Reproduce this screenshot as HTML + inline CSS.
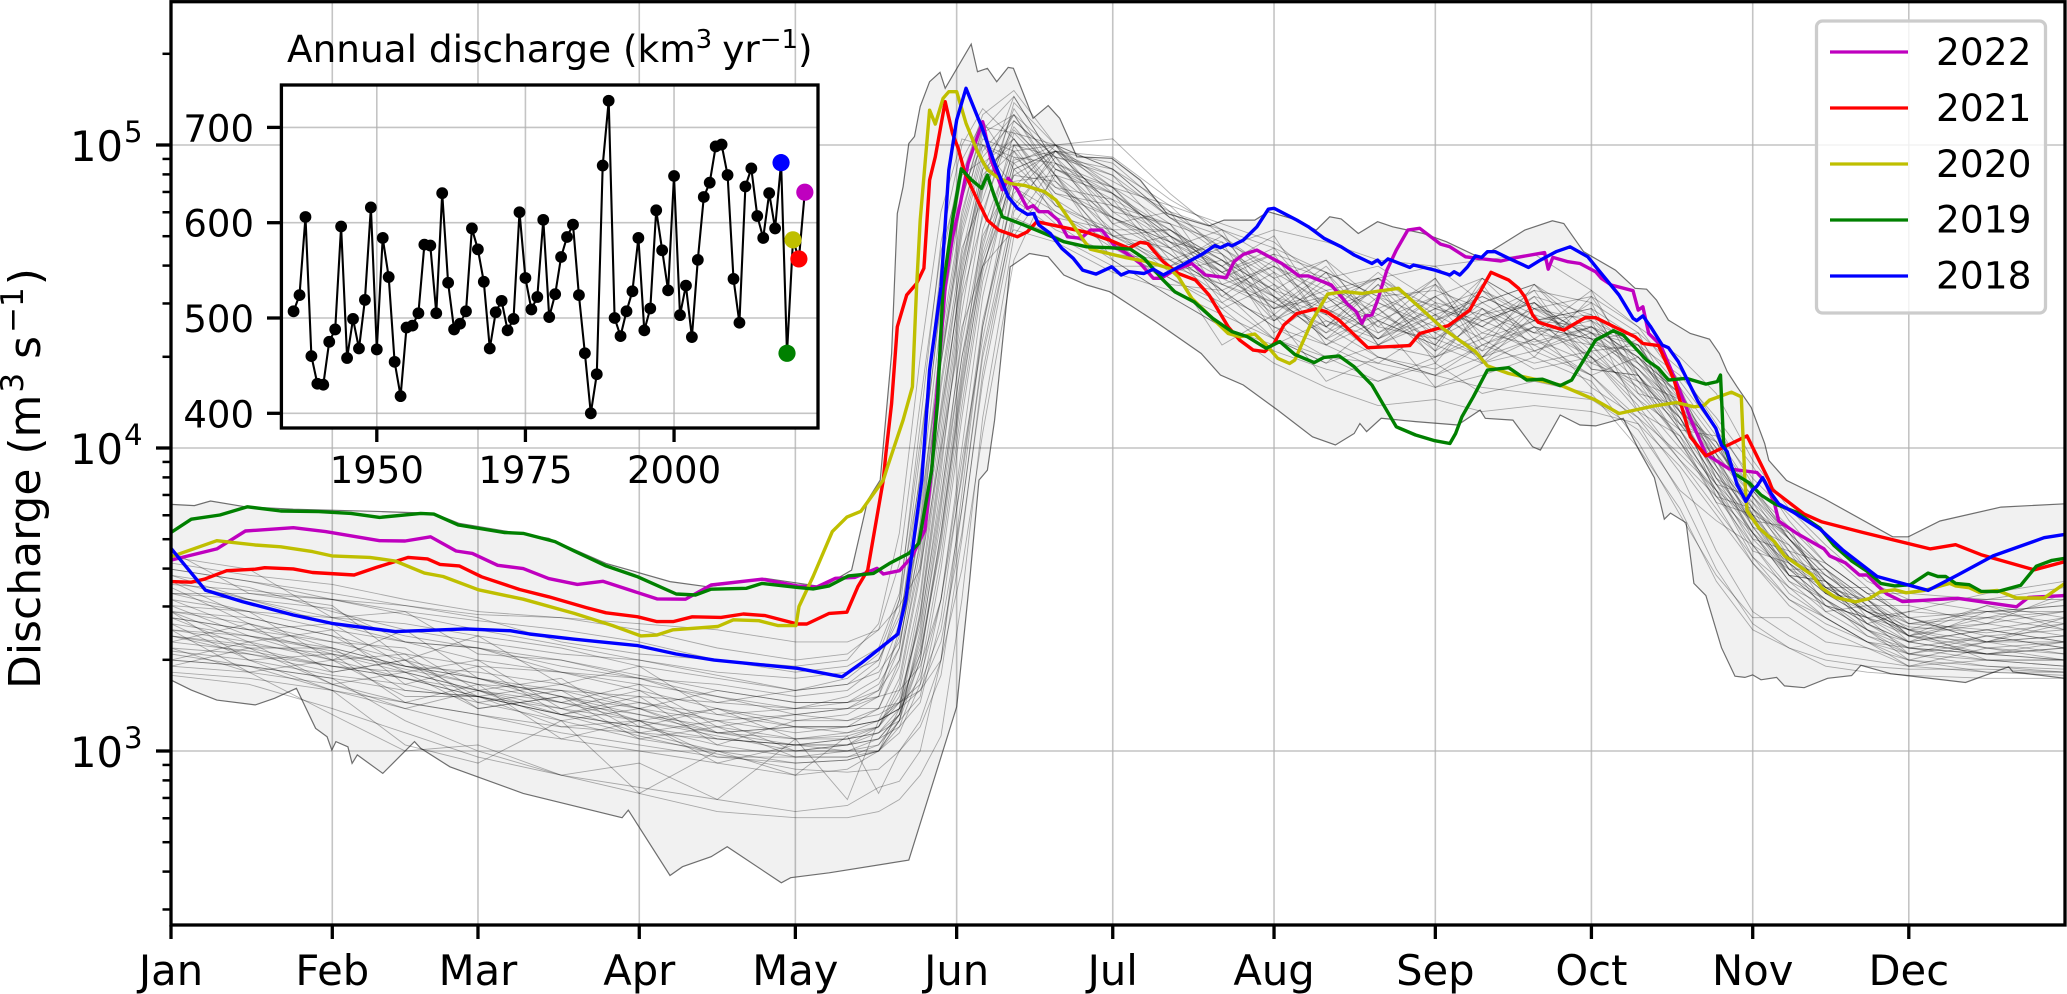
<!DOCTYPE html>
<html lang="en">
<head>
<meta charset="utf-8">
<title>Annual and daily discharge</title>
<style>
html,body{margin:0;padding:0;background:#fff;}
svg{display:block;font-family:"DejaVu Sans","Liberation Sans",sans-serif;}
</style>
</head>
<body>
<svg id="chart" xmlns="http://www.w3.org/2000/svg" width="2067" height="994" viewBox="0 0 2067 994">
<defs>
<clipPath id="main-clip"><rect x="171" y="2" width="1894" height="923"/></clipPath>
</defs>
<rect x="0" y="0" width="2067" height="994" fill="#fff"/>
<g id="main-grid"></g>
<g id="main-data" clip-path="url(#main-clip)"></g>
<g id="main-ticks"></g>
<rect x="171" y="1.7" width="1894" height="923.3" fill="none" stroke="#000" stroke-width="3.3"/>
<text transform="translate(40,689) rotate(-90)" font-size="44" fill="#000">Discharge (m<tspan font-size="31" dy="-17" dx="2">3</tspan><tspan dy="17" dx="14">s</tspan><tspan font-size="31" dy="-17" dx="3">−1</tspan><tspan dy="17" dx="2">)</tspan></text>
<text x="287" y="62" font-size="37.4" fill="#000">Annual discharge (km<tspan font-size="26" dy="-14">3</tspan><tspan dy="14" dx="10">yr</tspan><tspan font-size="26" dy="-14">−1</tspan><tspan dy="14">)</tspan></text>
<rect x="281.4" y="85" width="536.6" height="343" fill="#fff"/>
<g id="inset"></g>
<rect x="281.4" y="85" width="536.6" height="343" fill="none" stroke="#000" stroke-width="3.3"/>
<g>
<rect x="1816.5" y="21" width="229" height="292" rx="6" ry="6" fill="#fff" fill-opacity="0.8" stroke="#cccccc" stroke-width="3.3"/>
<line x1="1830" x2="1908" y1="52" y2="52" stroke="#bf00bf" stroke-width="3.3"/>
<text x="1936" y="65" font-size="37.5">2022</text>
<line x1="1830" x2="1908" y1="108" y2="108" stroke="#ff0000" stroke-width="3.3"/>
<text x="1936" y="121" font-size="37.5">2021</text>
<line x1="1830" x2="1908" y1="164" y2="164" stroke="#bfbf00" stroke-width="3.3"/>
<text x="1936" y="177" font-size="37.5">2020</text>
<line x1="1830" x2="1908" y1="220" y2="220" stroke="#008000" stroke-width="3.3"/>
<text x="1936" y="232.5" font-size="37.5">2019</text>
<line x1="1830" x2="1908" y1="276" y2="276" stroke="#0000ff" stroke-width="3.3"/>
<text x="1936" y="288.5" font-size="37.5">2018</text>
</g>
</svg>
<script>
const monthLabels = ["Jan","Feb","Mar","Apr","May","Jun","Jul","Aug","Sep","Oct","Nov","Dec"];
const monthStartDays = [0,31,59,90,120,151,181,212,243,273,304,334];
const yDecadeExponents = [3,4,5];
const yMinorLog10Ticks = [2.477,2.602,2.699,2.778,2.845,2.903,2.954,3.301,3.477,3.602,3.699,3.778,3.845,3.903,3.954,4.301,4.477,4.602,4.699,4.778,4.845,4.903,4.954,5.301];
const insetYearTicks = [1950,1975,2000];
const insetValueTicks = [400,500,600,700];

const annualFirstYear = 1936;
const annualDischarge = [507,524,606,460,431,430,475,488,596,458,499,468,519,616,467,584,543,454,418,490,492,505,577,576,505,631,537,488,494,507,594,572,538,468,506,518,487,499,611,542,509,522,603,501,525,564,585,598,524,463,400,441,660,728,500,481,507,528,584,487,510,613,571,529,649,503,534,480,561,627,642,680,682,650,541,495,638,657,607,584,631,594,663,463,582,562,632];
const highlightYears = [2018,2019,2020,2021,2022];
const highlightColors = ["#0000ff","#008000","#bfbf00","#ff0000","#bf00bf"];

// Pairs of [day of year, log10 discharge]
const envelopeUpper = [[0,3.814],[4.5,3.81],[7.6,3.825],[14.3,3.806],[23.5,3.798],[40.7,3.79],[50.5,3.784],[55.4,3.751],[72.6,3.702],[83.6,3.619],[95.9,3.559],[103.2,3.542],[114.2,3.57],[125.3,3.542],[130.8,3.597],[133.9,3.828],[136.3,3.894],[138.5,4.312],[139.6,4.774],[140.7,4.862],[141.8,5.005],[142.9,5.028],[144,5.127],[145.8,5.209],[147.8,5.24],[148.8,5.187],[153.8,5.333],[155,5.242],[156.9,5.253],[158.7,5.209],[160.9,5.256],[161.9,5.253],[165.7,5.088],[168.6,5.13],[170.8,5.088],[174.1,4.961],[178.2,4.958],[180.8,4.956],[186.3,4.884],[191.4,4.774],[199.5,4.733],[202.4,4.752],[208.3,4.752],[210.9,4.78],[216.4,4.752],[220.1,4.719],[222.7,4.763],[224.9,4.756],[228.2,4.708],[231.9,4.747],[234.8,4.73],[240.7,4.708],[245.1,4.681],[251.6,4.628],[255.6,4.67],[260.2,4.719],[265.5,4.75],[267.7,4.741],[271.5,4.648],[277.6,4.587],[281.4,4.527],[283.6,4.524],[285.5,4.488],[287.8,4.422],[292,4.378],[295.7,4.359],[297.6,4.312],[299.1,4.252],[301,4.202],[303.7,4.134],[306.3,4.015],[307.1,3.959],[310.5,3.893],[317.7,3.833],[330.9,3.707],[333.9,3.707],[340,3.759],[351.7,3.805],[364,3.816]];
const envelopeLower = [[0,3.234],[3.9,3.201],[8.8,3.168],[16.2,3.152],[19.9,3.174],[24.1,3.207],[27.8,3.075],[30,3.047],[30.9,3.003],[31.7,3.031],[34,3.014],[34.8,2.959],[35.8,2.987],[40.7,2.926],[46.8,3.031],[48,3.009],[53.6,2.948],[67.7,2.86],[86.7,2.78],[87.9,2.805],[95.9,2.589],[98.3,2.618],[103.8,2.651],[106.9,2.684],[117.3,2.565],[119.1,2.582],[126.5,2.598],[141.8,2.64],[151,3.146],[153.5,3.564],[155.3,3.894],[156.9,3.927],[158.3,4.092],[161.3,4.598],[165,4.642],[168.6,4.631],[171.6,4.571],[176,4.538],[180.4,4.516],[189.2,4.417],[198,4.312],[201.7,4.241],[206.1,4.208],[212.7,4.125],[219.4,4.037],[223.8,4.01],[227.4,4.048],[228.5,4.081],[229.8,4.054],[232.6,4.098],[239.2,4.087],[247.3,4.076],[251.6,4.125],[252.6,4.098],[257.9,4.092],[261.7,4.004],[263.2,3.993],[267,4.109],[270.8,4.076],[273.8,4.073],[279.1,4.098],[282.1,3.994],[285.1,3.902],[287,3.765],[288.2,3.785],[291.2,3.753],[292.7,3.553],[295,3.513],[298,3.341],[300.6,3.247],[302.5,3.243],[304,3.251],[305.6,3.235],[308.6,3.243],[310.1,3.215],[313.9,3.209],[318.4,3.24],[323,3.249],[324.8,3.283],[330.5,3.255],[344.9,3.226],[353.2,3.278],[354,3.261],[364,3.24]];

const series2022 = [[0,3.63],[8.8,3.667],[14.3,3.726],[23.5,3.737],[29.7,3.724],[40.1,3.694],[45,3.693],[49.9,3.707],[54.8,3.66],[57.9,3.652],[62.8,3.613],[67.7,3.602],[72.6,3.569],[78.1,3.55],[83,3.56],[93.4,3.502],[98.9,3.501],[103.8,3.548],[113.6,3.567],[120.4,3.545],[124.1,3.541],[127.7,3.57],[131.4,3.573],[135.7,3.603],[136.9,3.584],[140,3.595],[142.4,3.641],[144.9,3.729],[146.2,3.927],[147.3,4.202],[148.8,4.532],[150.2,4.697],[151.7,4.807],[153.2,4.939],[156,5.077],[157.6,4.951],[159.8,4.852],[160.9,4.89],[162.7,4.852],[164.6,4.791],[165.7,4.8],[166.8,4.78],[168.6,4.78],[170.5,4.752],[172.3,4.697],[174.9,4.692],[176.7,4.719],[178.9,4.719],[181.5,4.664],[183.7,4.642],[186.3,4.609],[188.8,4.56],[190.3,4.56],[192.9,4.587],[196.2,4.609],[198.8,4.571],[202.8,4.562],[204.3,4.615],[206.1,4.639],[208.7,4.653],[213.5,4.609],[216.8,4.568],[218.6,4.568],[223,4.538],[226,4.477],[227.8,4.45],[228.9,4.412],[229.6,4.436],[230.8,4.439],[231.9,4.488],[233.7,4.587],[235.5,4.653],[237.7,4.719],[240,4.725],[244,4.673],[245.8,4.664],[248.8,4.631],[252.6,4.623],[255.6,4.617],[258.7,4.629],[264,4.645],[264.7,4.59],[265.6,4.629],[268.5,4.615],[270.8,4.609],[273.8,4.582],[274.9,4.56],[276.8,4.538],[281,4.519],[282,4.455],[282.9,4.466],[284,4.378],[286.3,4.34],[288.9,4.235],[291.2,4.136],[292,4.098],[295,3.98],[299.5,3.931],[304.8,3.919],[306.3,3.891],[308.2,3.816],[309,3.759],[312.4,3.719],[317.7,3.667],[318.8,3.644],[321.8,3.621],[324.5,3.581],[326,3.581],[327.9,3.547],[329.8,3.518],[332.8,3.493],[343.4,3.504],[354.7,3.476],[357,3.507],[364,3.513]];
const series2021 = [[0,3.559],[3.9,3.557],[6.4,3.567],[10.7,3.595],[16.2,3.6],[18,3.605],[23.5,3.601],[27.2,3.589],[35.2,3.581],[39.5,3.606],[45.6,3.639],[49.3,3.634],[51.7,3.616],[55.4,3.611],[59.7,3.575],[67,3.533],[72.6,3.509],[79.9,3.473],[83.6,3.456],[89.7,3.443],[93.4,3.427],[96.5,3.427],[100.2,3.443],[105.7,3.441],[110,3.452],[114.2,3.447],[120.4,3.419],[122.2,3.419],[126.5,3.454],[129.9,3.458],[132,3.542],[133.9,3.597],[136.9,3.894],[137.4,3.982],[138.5,4.147],[139.6,4.4],[141.4,4.505],[143.3,4.543],[144.7,4.593],[145.8,4.884],[146.9,4.961],[148.8,5.143],[150.2,5.038],[151.3,4.989],[152.6,4.906],[154.7,4.829],[156.9,4.752],[159.1,4.719],[162.7,4.697],[164.6,4.714],[166.4,4.747],[171.6,4.728],[176,4.712],[180.4,4.686],[184.1,4.659],[186.3,4.679],[187.7,4.675],[190.7,4.615],[193.6,4.576],[196.9,4.554],[199.5,4.505],[203.2,4.4],[205.4,4.356],[208,4.323],[210.2,4.318],[212,4.345],[213.9,4.406],[216.4,4.444],[220.1,4.459],[222,4.45],[224.5,4.422],[230,4.331],[238.1,4.338],[240,4.378],[245.5,4.404],[249.6,4.455],[253.7,4.58],[257.1,4.554],[259,4.527],[260.2,4.499],[261.7,4.439],[262.8,4.415],[267.7,4.389],[271.9,4.431],[273.8,4.43],[277.6,4.398],[281.4,4.367],[282.9,4.345],[285.9,4.338],[288.9,4.224],[292,4.037],[295,3.974],[302.9,4.04],[307.1,3.894],[307.8,3.862],[313.9,3.782],[317.3,3.756],[325.2,3.721],[338.1,3.667],[343,3.681],[347.9,3.648],[358.1,3.598],[364,3.625]];
const series2020 = [[0,3.641],[8.8,3.694],[16.2,3.68],[21.1,3.674],[27.2,3.658],[30.9,3.644],[38.2,3.639],[43.1,3.627],[48.7,3.587],[52.3,3.576],[59.1,3.532],[67.7,3.501],[77.5,3.454],[84.9,3.414],[90.3,3.38],[93.4,3.383],[96.5,3.4],[105.1,3.411],[108.1,3.433],[113,3.43],[116.7,3.414],[120.1,3.414],[120.7,3.477],[123.4,3.576],[127.1,3.724],[129.9,3.772],[132.6,3.791],[136.9,3.894],[137.7,3.938],[140.7,4.092],[142.5,4.202],[143.3,4.532],[144,4.752],[145.8,5.115],[146.9,5.069],[148.4,5.154],[149.5,5.176],[151,5.176],[152.8,5.072],[155,4.978],[156.9,4.918],[158.7,4.895],[161.3,4.873],[164.2,4.866],[167.9,4.846],[170.1,4.818],[175.6,4.681],[176.7,4.656],[183.3,4.629],[187.7,4.615],[191.8,4.593],[193.6,4.565],[196.2,4.494],[199.5,4.439],[203.2,4.378],[205.4,4.367],[208.3,4.376],[210.5,4.34],[212.7,4.296],[215,4.279],[216,4.29],[219.4,4.422],[222.3,4.508],[225.6,4.516],[228.9,4.51],[235.9,4.527],[244.4,4.395],[250.7,4.318],[253,4.271],[257.1,4.246],[261.3,4.23],[267,4.208],[273.8,4.158],[278.3,4.114],[285.1,4.139],[289.3,4.15],[292.7,4.136],[294.6,4.14],[295.7,4.158],[299.9,4.184],[301.8,4.169],[302.5,3.894],[302.9,3.793],[305.2,3.736],[308.2,3.69],[310.1,3.644],[315.4,3.581],[317.3,3.538],[319.9,3.507],[323.7,3.492],[326.4,3.503],[328.6,3.526],[331.3,3.532],[333.5,3.522],[337,3.53],[341.9,3.553],[343,3.545],[345.6,3.539],[347.5,3.524],[351,3.53],[354.7,3.505],[360,3.505],[364,3.553]];
const series2019 = [[0,3.721],[3.9,3.765],[9.4,3.779],[14.7,3.806],[21.1,3.792],[28.4,3.79],[34.6,3.784],[40.1,3.771],[48,3.784],[50.5,3.782],[55.2,3.746],[64,3.721],[67.7,3.718],[73.8,3.691],[77.5,3.66],[83.6,3.611],[89.7,3.575],[97.1,3.518],[100.8,3.515],[103.8,3.534],[110.6,3.537],[113.6,3.553],[120.4,3.54],[123.4,3.535],[126.5,3.545],[130.2,3.578],[135,3.586],[138.1,3.619],[141.8,3.652],[143.7,3.685],[146.2,3.927],[147.3,4.147],[148.4,4.532],[150.2,4.752],[151.9,4.921],[153.9,4.884],[155.8,4.857],[156.9,4.901],[158.3,4.829],[159.8,4.763],[163.5,4.739],[167.9,4.708],[171.6,4.681],[176,4.664],[180.4,4.661],[184.4,4.656],[187,4.626],[190.7,4.554],[192.9,4.516],[196.6,4.483],[200.2,4.428],[203.9,4.384],[206.9,4.367],[210.5,4.329],[213.1,4.351],[216,4.309],[219.7,4.282],[221.6,4.299],[224.5,4.304],[227.4,4.268],[230.8,4.208],[235.5,4.07],[239.2,4.043],[242.9,4.024],[245.8,4.015],[246.9,4.048],[248.1,4.103],[250.3,4.169],[253,4.257],[257.1,4.265],[260.6,4.224],[263.6,4.227],[267,4.206],[269.2,4.224],[271.5,4.29],[273.8,4.356],[277.2,4.387],[279.1,4.373],[283.6,4.29],[285.9,4.263],[287.8,4.224],[291.2,4.23],[295,4.211],[297.2,4.219],[297.8,4.241],[298.4,4.015],[299.9,3.938],[300.6,3.914],[303.3,3.885],[305.6,3.845],[308.2,3.816],[312.4,3.788],[316.9,3.736],[319.6,3.679],[323,3.627],[326,3.593],[328.6,3.553],[331.3,3.545],[334.3,3.549],[337.7,3.587],[339.6,3.576],[341.1,3.576],[343,3.553],[345.6,3.549],[347.9,3.527],[351,3.526],[355.5,3.547],[358.5,3.61],[361.5,3.629],[364,3.636]];
const series2018 = [[0,3.669],[6.6,3.531],[13.7,3.493],[23.5,3.449],[30.9,3.421],[43.1,3.394],[56.6,3.403],[65.2,3.397],[68.9,3.386],[77.5,3.369],[89.7,3.348],[97.1,3.32],[104.4,3.3],[120.4,3.273],[129,3.245],[132.6,3.289],[139.7,3.386],[141.2,3.498],[144.3,3.894],[145.8,4.257],[148,4.532],[149.5,4.917],[151,5.083],[152.8,5.187],[155.8,5.06],[158.3,4.939],[160.9,4.829],[162.7,4.791],[164.6,4.771],[165.8,4.774],[166.8,4.736],[169,4.708],[171.2,4.659],[173.4,4.626],[175.2,4.587],[177.8,4.574],[180.8,4.598],[182.6,4.571],[184.1,4.582],[187,4.576],[188.8,4.59],[190.7,4.571],[194.4,4.604],[198.4,4.642],[200.6,4.668],[201.7,4.661],[203.2,4.673],[203.9,4.667],[206.1,4.686],[208.7,4.73],[210.9,4.788],[212,4.791],[216.4,4.752],[218.6,4.73],[221.6,4.692],[224.9,4.664],[227.4,4.637],[230.8,4.609],[231.9,4.62],[232.7,4.606],[233.9,4.624],[238.1,4.596],[238.8,4.604],[242.9,4.587],[245.8,4.571],[246.6,4.582],[247.7,4.571],[249.2,4.598],[250.7,4.634],[251.9,4.629],[253,4.648],[254.5,4.648],[257.1,4.626],[260.9,4.596],[263.2,4.62],[266.2,4.648],[268.9,4.664],[272.3,4.631],[274.9,4.576],[278.3,4.505],[281,4.428],[281.7,4.42],[282.9,4.436],[284.4,4.4],[286.6,4.34],[287.8,4.331],[289.7,4.285],[293.5,4.153],[296.9,4.065],[298,4.01],[299.1,3.988],[301,3.879],[302.7,3.824],[304,3.862],[304.8,3.874],[305.9,3.902],[307.5,3.851],[309,3.816],[311.6,3.79],[316.9,3.733],[321.4,3.662],[327.9,3.576],[337.7,3.53],[343.4,3.581],[350.2,3.644],[360,3.704],[364,3.715]];
const yearSeries = [series2022,series2021,series2020,series2019,series2018];
const yearLabels = ["2022","2021","2020","2019","2018"];
const yearColors = ["#bf00bf","#ff0000","#bfbf00","#008000","#0000ff"];

// Earlier years: estimated log10 discharge at shared days
const grayKnotDays = [0,15,31,45,59,75,90,105,120,130,136,140,144,148,152,156,162,170,181,192,202,212,222,232,243,252,262,273,282,290,297,304,311,318,326,334,349,364];
const grayLines = [
[3.55,3.53,3.50,3.46,3.43,3.40,3.36,3.30,3.26,3.28,3.34,3.52,4.02,4.50,4.85,5.00,4.96,4.86,4.76,4.66,4.58,4.50,4.44,4.52,4.47,4.40,4.50,4.44,4.24,4.06,3.90,3.76,3.64,3.56,3.47,3.41,3.39,3.42],
[3.42,3.38,3.33,3.27,3.22,3.16,3.10,3.05,3.00,3.00,3.02,3.12,3.45,3.95,4.45,4.85,5.05,4.92,4.82,4.72,4.62,4.52,4.38,4.46,4.54,4.42,4.35,4.40,4.26,4.12,3.98,3.82,3.70,3.60,3.50,3.38,3.32,3.30],
[3.48,3.46,3.40,3.36,3.30,3.26,3.22,3.18,3.12,3.14,3.20,3.38,3.80,4.30,4.72,4.98,5.10,4.88,4.72,4.60,4.54,4.60,4.52,4.40,4.36,4.48,4.54,4.38,4.30,4.18,4.02,3.86,3.74,3.62,3.52,3.44,3.36,3.36],
[3.36,3.33,3.28,3.24,3.18,3.12,3.08,3.02,2.98,2.98,3.00,3.06,3.22,3.60,4.10,4.55,4.92,4.98,4.86,4.74,4.68,4.60,4.46,4.36,4.44,4.50,4.42,4.46,4.36,4.20,3.94,3.76,3.60,3.50,3.42,3.34,3.30,3.28],
[3.62,3.58,3.55,3.50,3.46,3.44,3.40,3.34,3.30,3.32,3.40,3.62,4.15,4.65,4.90,4.95,4.82,4.72,4.64,4.62,4.50,4.42,4.50,4.56,4.44,4.36,4.42,4.30,4.14,3.96,3.84,3.72,3.62,3.52,3.44,3.38,3.36,3.38],
[3.30,3.28,3.24,3.20,3.18,3.14,3.10,3.06,3.04,3.04,3.06,3.10,3.18,3.50,4.00,4.50,4.95,4.98,4.94,4.78,4.66,4.56,4.62,4.48,4.40,4.32,4.40,4.36,4.28,4.16,4.00,3.84,3.70,3.56,3.40,3.30,3.26,3.26],
[3.50,3.46,3.44,3.38,3.34,3.30,3.25,3.20,3.16,3.16,3.20,3.30,3.62,4.20,4.62,4.88,4.98,4.84,4.80,4.70,4.58,4.64,4.58,4.50,4.52,4.46,4.38,4.34,4.20,4.08,3.92,3.74,3.58,3.48,3.40,3.36,3.40,3.44],
[3.40,3.36,3.30,3.24,3.20,3.14,3.06,3.00,2.96,2.97,3.00,3.10,3.40,3.88,4.35,4.70,4.90,4.98,4.90,4.76,4.70,4.56,4.42,4.34,4.30,4.38,4.46,4.50,4.40,4.22,4.06,3.90,3.78,3.66,3.54,3.44,3.38,3.34],
[3.46,3.44,3.38,3.32,3.28,3.26,3.20,3.14,3.10,3.12,3.18,3.40,3.92,4.48,4.82,5.05,5.16,4.94,4.74,4.64,4.52,4.40,4.34,4.42,4.50,4.56,4.46,4.34,4.16,4.00,3.86,3.70,3.58,3.50,3.42,3.36,3.32,3.34],
[3.33,3.30,3.25,3.22,3.16,3.10,3.04,3.00,3.00,3.02,3.08,3.22,3.58,4.10,4.58,4.92,5.00,4.80,4.70,4.60,4.66,4.54,4.44,4.30,4.26,4.34,4.28,4.32,4.18,4.04,3.88,3.68,3.52,3.44,3.36,3.30,3.28,3.27],
[3.58,3.54,3.46,3.40,3.36,3.32,3.30,3.26,3.24,3.26,3.30,3.46,3.98,4.60,4.95,5.08,4.92,4.78,4.68,4.56,4.48,4.36,4.28,4.34,4.42,4.48,4.54,4.42,4.28,4.12,3.96,3.80,3.66,3.54,3.46,3.40,3.42,3.46],
[3.38,3.34,3.28,3.24,3.18,3.12,3.08,3.04,3.02,3.02,3.04,3.08,3.16,3.44,3.92,4.42,4.84,4.98,4.96,4.82,4.72,4.62,4.56,4.60,4.48,4.44,4.52,4.48,4.38,4.26,4.08,3.88,3.70,3.58,3.48,3.38,3.34,3.32],
[3.28,3.26,3.22,3.16,3.12,3.06,3.02,2.98,2.96,2.97,3.00,3.14,3.50,4.02,4.55,4.90,5.02,4.84,4.76,4.68,4.60,4.50,4.40,4.48,4.38,4.30,4.36,4.28,4.22,4.10,3.92,3.72,3.56,3.46,3.38,3.32,3.28,3.26],
[3.52,3.50,3.42,3.36,3.34,3.28,3.24,3.22,3.18,3.20,3.28,3.50,4.08,4.68,5.00,5.12,5.02,4.82,4.70,4.62,4.54,4.46,4.50,4.42,4.34,4.28,4.32,4.40,4.34,4.16,3.98,3.84,3.72,3.60,3.48,3.42,3.44,3.40],
[3.44,3.40,3.36,3.30,3.24,3.18,3.12,3.08,3.04,3.05,3.08,3.18,3.42,3.84,4.30,4.68,4.98,5.00,4.92,4.80,4.64,4.50,4.36,4.28,4.40,4.52,4.44,4.38,4.24,4.08,3.94,3.80,3.68,3.56,3.46,3.40,3.34,3.36],
[3.34,3.32,3.28,3.26,3.20,3.12,3.05,2.99,2.94,2.93,2.94,3.00,3.08,3.25,3.70,4.25,4.78,4.98,4.88,4.78,4.72,4.66,4.58,4.50,4.42,4.50,4.42,4.44,4.32,4.20,4.04,3.86,3.72,3.60,3.50,3.40,3.30,3.30],
[3.60,3.56,3.52,3.48,3.44,3.36,3.32,3.30,3.28,3.30,3.42,3.72,4.30,4.78,5.02,5.00,4.86,4.74,4.62,4.50,4.40,4.34,4.42,4.36,4.50,4.40,4.32,4.24,4.10,3.98,3.86,3.76,3.62,3.54,3.46,3.44,3.46,3.48],
[3.26,3.24,3.20,3.16,3.12,3.08,3.06,3.04,3.02,3.04,3.06,3.12,3.30,3.72,4.20,4.60,4.88,4.90,4.76,4.64,4.52,4.40,4.30,4.22,4.30,4.36,4.26,4.30,4.20,4.02,3.82,3.62,3.48,3.40,3.34,3.28,3.26,3.25],
[3.46,3.42,3.34,3.28,3.22,3.20,3.14,3.10,3.06,3.08,3.14,3.30,3.70,4.28,4.74,5.00,4.94,4.80,4.72,4.72,4.62,4.52,4.46,4.38,4.46,4.42,4.48,4.36,4.22,4.02,3.88,3.72,3.58,3.48,3.40,3.34,3.38,3.40],
[3.40,3.38,3.34,3.28,3.26,3.22,3.16,3.12,3.08,3.08,3.10,3.16,3.32,3.68,4.18,4.62,4.94,5.00,5.02,4.84,4.70,4.58,4.48,4.56,4.60,4.48,4.38,4.42,4.34,4.24,4.10,3.94,3.76,3.62,3.52,3.44,3.36,3.38],
[3.32,3.28,3.20,3.14,3.08,3.04,3.00,2.96,2.92,2.94,3.00,3.10,3.38,3.82,4.38,4.78,5.08,4.96,4.78,4.66,4.56,4.48,4.40,4.30,4.24,4.30,4.40,4.30,4.12,3.96,3.80,3.64,3.54,3.44,3.36,3.32,3.30,3.30],
[3.56,3.50,3.44,3.42,3.38,3.34,3.28,3.24,3.20,3.22,3.26,3.36,3.68,4.12,4.56,4.86,5.06,4.90,4.84,4.70,4.60,4.46,4.52,4.56,4.46,4.52,4.42,4.40,4.30,4.14,4.00,3.86,3.70,3.58,3.50,3.42,3.40,3.36],
[3.38,3.35,3.32,3.28,3.24,3.20,3.18,3.16,3.14,3.14,3.14,3.16,3.20,3.30,3.60,4.05,4.62,4.92,4.86,4.80,4.74,4.68,4.54,4.44,4.36,4.44,4.48,4.36,4.26,4.14,3.96,3.78,3.62,3.52,3.44,3.36,3.32,3.30],
[3.44,3.40,3.32,3.26,3.20,3.16,3.12,3.06,3.02,3.04,3.08,3.20,3.52,4.06,4.60,4.92,5.10,4.98,4.80,4.68,4.58,4.44,4.34,4.26,4.20,4.28,4.36,4.24,4.08,3.94,3.78,3.62,3.50,3.42,3.36,3.34,3.32,3.34],
[3.25,3.22,3.14,3.06,2.98,2.92,2.86,2.80,2.78,2.78,2.80,2.84,2.92,3.05,3.50,4.10,4.70,4.90,4.62,4.50,4.40,4.28,4.20,4.14,4.16,4.12,4.14,4.12,4.08,3.85,3.60,3.42,3.34,3.28,3.26,3.25,3.24,3.24],
[3.52,3.52,3.50,3.48,3.45,3.44,3.42,3.40,3.36,3.36,3.40,3.48,3.60,4.00,4.40,4.60,4.72,4.68,4.58,4.52,4.44,4.36,4.30,4.28,4.24,4.20,4.18,4.16,4.06,3.86,3.76,3.68,3.60,3.54,3.50,3.50,3.50,3.50],
[3.30,3.28,3.24,3.10,3.00,2.92,2.88,2.84,2.80,2.82,2.88,2.90,3.00,3.30,3.85,4.40,4.86,4.78,4.66,4.56,4.46,4.32,4.26,4.22,4.28,4.18,4.22,4.18,4.00,3.80,3.56,3.40,3.34,3.30,3.28,3.27,3.27,3.26],
[3.60,3.56,3.50,3.45,3.40,3.35,3.30,3.25,3.20,3.24,3.32,3.50,3.90,4.50,4.90,5.10,5.18,5.00,4.92,4.76,4.66,4.72,4.68,4.62,4.60,4.62,4.64,4.52,4.40,4.30,4.18,3.96,3.80,3.68,3.56,3.50,3.46,3.46],
[3.58,3.50,3.47,3.36,3.34,3.26,3.24,3.16,3.20,3.22,3.30,3.44,3.72,4.28,4.70,4.96,5.08,4.96,4.70,4.66,4.46,4.54,4.36,4.50,4.34,4.52,4.36,4.48,4.18,4.14,3.84,3.80,3.60,3.60,3.44,3.46,3.44,3.50],
[3.46,3.36,3.40,3.22,3.28,3.12,3.18,3.02,3.10,3.10,3.14,3.28,3.66,4.22,4.66,4.82,5.12,4.92,4.84,4.62,4.68,4.42,4.56,4.34,4.48,4.32,4.54,4.34,4.32,4.08,4.02,3.78,3.72,3.54,3.54,3.42,3.46,3.42],
[3.54,3.42,3.36,3.34,3.20,3.24,3.08,3.14,3.04,3.06,3.08,3.16,3.44,3.92,4.50,4.76,5.14,5.00,4.78,4.74,4.50,4.62,4.40,4.56,4.38,4.46,4.30,4.50,4.28,4.18,3.90,3.82,3.64,3.58,3.48,3.48,3.42,3.52],
[3.36,3.42,3.26,3.30,3.14,3.18,3.04,3.08,2.98,3.00,3.04,3.12,3.36,3.76,4.26,4.72,5.00,5.00,4.86,4.66,4.72,4.44,4.58,4.40,4.56,4.36,4.50,4.28,4.36,4.06,4.04,3.76,3.74,3.52,3.50,3.38,3.42,3.38],
[3.64,3.60,3.44,3.46,3.32,3.30,3.24,3.18,3.14,3.18,3.24,3.42,3.84,4.42,4.82,5.06,5.04,4.90,4.66,4.70,4.48,4.58,4.34,4.46,4.30,4.44,4.38,4.52,4.24,4.10,3.88,3.84,3.66,3.62,3.52,3.52,3.50,3.54],
[3.30,3.36,3.22,3.26,3.14,3.18,3.10,3.14,3.08,3.08,3.10,3.14,3.24,3.50,3.96,4.36,4.86,5.00,4.84,4.72,4.58,4.66,4.46,4.52,4.32,4.42,4.48,4.32,4.34,4.14,3.94,3.70,3.66,3.48,3.44,3.32,3.38,3.34],
[3.50,3.40,3.42,3.28,3.24,3.18,3.14,3.04,3.02,3.02,3.06,3.14,3.46,3.98,4.52,4.88,5.16,4.94,4.76,4.68,4.64,4.38,4.50,4.36,4.54,4.34,4.42,4.46,4.22,4.16,3.96,3.74,3.68,3.52,3.46,3.40,3.48,3.44],
[3.42,3.30,3.32,3.16,3.22,3.04,3.10,2.96,3.02,3.00,3.00,3.08,3.26,3.64,4.14,4.58,5.00,4.96,4.90,4.70,4.60,4.70,4.44,4.58,4.42,4.56,4.40,4.36,4.38,4.12,4.02,3.80,3.70,3.56,3.42,3.36,3.40,3.36],
[3.66,3.52,3.48,3.30,3.38,3.22,3.28,3.12,3.14,3.16,3.22,3.34,3.76,4.36,4.78,5.02,4.98,4.76,4.72,4.58,4.62,4.48,4.38,4.54,4.36,4.30,4.46,4.42,4.12,4.04,3.82,3.78,3.58,3.56,3.42,3.46,3.52,3.56],
[3.34,3.26,3.30,3.18,3.18,3.12,3.16,3.10,3.12,3.10,3.12,3.16,3.22,3.40,3.80,4.32,4.80,4.96,4.92,4.76,4.64,4.52,4.62,4.38,4.50,4.38,4.34,4.40,4.30,4.18,3.98,3.74,3.60,3.50,3.40,3.32,3.36,3.32],
[3.48,3.38,3.30,3.32,3.16,3.20,3.06,3.10,3.00,3.02,3.04,3.12,3.32,3.72,4.24,4.66,5.04,5.00,4.74,4.78,4.54,4.48,4.60,4.42,4.34,4.54,4.32,4.38,4.34,4.10,3.92,3.78,3.64,3.54,3.46,3.38,3.44,3.46],
[3.56,3.44,3.38,3.26,3.30,3.14,3.20,3.06,3.08,3.06,3.10,3.24,3.60,4.14,4.64,4.94,5.02,4.86,4.82,4.60,4.70,4.50,4.36,4.44,4.56,4.30,4.48,4.30,4.16,4.06,3.86,3.66,3.62,3.46,3.48,3.36,3.46,3.48],
[3.38,3.32,3.26,3.30,3.18,3.22,3.14,3.20,3.16,3.16,3.18,3.20,3.28,3.50,3.90,4.40,4.92,4.98,4.80,4.74,4.56,4.64,4.40,4.54,4.28,4.46,4.34,4.24,4.30,4.12,3.90,3.72,3.56,3.50,3.38,3.34,3.32,3.36],
[3.44,3.34,3.34,3.20,3.18,3.08,3.10,2.98,2.98,2.98,3.02,3.10,3.30,3.70,4.22,4.64,4.96,4.94,4.86,4.68,4.52,4.60,4.50,4.36,4.46,4.40,4.52,4.26,4.24,4.02,3.84,3.68,3.54,3.48,3.44,3.40,3.36,3.42],
[3.52,3.46,3.30,3.40,3.24,3.16,3.22,3.08,3.12,3.14,3.18,3.34,3.74,4.32,4.76,5.04,5.10,4.90,4.70,4.72,4.60,4.42,4.54,4.46,4.32,4.56,4.46,4.38,4.26,4.10,3.88,3.76,3.58,3.56,3.46,3.38,3.48,3.40],
[3.28,3.34,3.22,3.14,3.20,3.10,3.14,3.06,3.08,3.08,3.10,3.14,3.20,3.36,3.72,4.22,4.74,4.94,4.84,4.70,4.62,4.46,4.58,4.34,4.44,4.28,4.44,4.26,4.24,4.06,3.86,3.64,3.50,3.44,3.36,3.28,3.30,3.28],
[3.46,3.30,3.20,3.02,2.96,3.10,2.86,3.00,2.92,3.05,2.86,3.00,3.10,3.30,3.80,4.30,4.76,4.70,4.60,4.60,4.34,4.44,4.22,4.30,4.24,4.34,4.40,4.20,4.10,3.92,3.66,3.46,3.38,3.32,3.30,3.28,3.34,3.30],
[3.40,3.26,3.12,3.00,3.02,2.92,2.96,2.84,3.04,2.84,3.10,3.14,3.34,3.80,4.30,4.60,4.90,4.88,4.68,4.54,4.52,4.36,4.28,4.42,4.20,4.24,4.30,4.22,4.02,3.78,3.58,3.44,3.44,3.36,3.34,3.30,3.36,3.44]
];

function xMain(day){ return 171 + 5.203 * day; }
function yMain(log10Q){ return 751 - 303 * (log10Q - 3); }
function xInset(year){ return 376.8 + (year - 1950) * 5.945; }
function yInset(value){ return 413.3 - (value - 400) * 0.953; }

const NS = "http://www.w3.org/2000/svg";
const mainGrid = document.getElementById("main-grid");
const mainData = document.getElementById("main-data");
const mainTicks = document.getElementById("main-ticks");
const inset = document.getElementById("inset");

function make(tag, parent){
  const node = document.createElementNS(NS, tag);
  parent.appendChild(node);
  return node;
}
function line(parent, x1, y1, x2, y2, color, width){
  const node = make("line", parent);
  node.setAttribute("x1", x1);
  node.setAttribute("y1", y1);
  node.setAttribute("x2", x2);
  node.setAttribute("y2", y2);
  node.setAttribute("stroke", color);
  node.setAttribute("stroke-width", width);
  return node;
}
function label(parent, x, y, size, anchor, content){
  const node = make("text", parent);
  node.setAttribute("x", x);
  node.setAttribute("y", y);
  node.setAttribute("font-size", size);
  node.setAttribute("text-anchor", anchor);
  node.setAttribute("fill", "#000");
  node.textContent = content;
  return node;
}
function pairsToPoints(pairs){
  return pairs.map(function(p){ return xMain(p[0]).toFixed(1) + "," + yMain(p[1]).toFixed(1); }).join(" ");
}

monthStartDays.forEach(function(day, i){
  const x = xMain(day);
  const grid = line(mainGrid, x, 2, x, 925, "#b0b0b0", 1.6);
  grid.setAttribute("stroke-opacity", "0.75");
  
  
  const tick = line(mainTicks, x, 925, x, 939, "#000", 3.3);
  
  
  const text = label(mainTicks, x, 985, 41.67, "middle", monthLabels[i]);
  
  
});
yDecadeExponents.forEach(function(exponent){
  const y = yMain(exponent);
  const grid = line(mainGrid, 171, y, 2065, y, "#b0b0b0", 1.6);
  grid.setAttribute("stroke-opacity", "0.75");
  
  
  const tick = line(mainTicks, 156, y, 171, y, "#000", 3.3);
  
  
  const base = label(mainTicks, 70, y + 16, 41.67, "start", "10");
  
  
  const power = label(mainTicks, 124, y - 3, 29.2, "start", String(exponent));
  
  
});
yMinorLog10Ticks.forEach(function(value){
  const y = yMain(value);
  const tick = line(mainTicks, 162.5, y, 171, y, "#000", 2.5);
  
  
});

const envelope = make("polygon", mainData);
envelope.setAttribute("points", pairsToPoints(envelopeUpper) + " " + pairsToPoints(envelopeLower.slice().reverse()));
envelope.setAttribute("fill", "#000");
envelope.setAttribute("fill-opacity", "0.055");
envelope.setAttribute("stroke", "#333");
envelope.setAttribute("stroke-opacity", "0.7");
envelope.setAttribute("stroke-width", "1.2");



grayLines.forEach(function(values, i){
  const pairs = grayKnotDays.map(function(day, k){ return [day, values[k]]; });
  const path = make("polyline", mainData);
  path.setAttribute("points", pairsToPoints(pairs));
  path.setAttribute("fill", "none");
  path.setAttribute("stroke", "#000");
  path.setAttribute("stroke-opacity", "0.3");
  path.setAttribute("stroke-width", "0.9");
  
  
});

yearSeries.forEach(function(pairs, i){
  const path = make("polyline", mainData);
  path.setAttribute("points", pairsToPoints(pairs));
  path.setAttribute("fill", "none");
  path.setAttribute("stroke", yearColors[i]);
  path.setAttribute("stroke-width", "3.4");
  path.setAttribute("stroke-linejoin", "round");
  
  
});

insetYearTicks.forEach(function(year){
  const x = xInset(year);
  const grid = line(inset, x, 85, x, 428, "#b0b0b0", 1.6);
  grid.setAttribute("stroke-opacity", "0.75");
  
  
  const tick = line(inset, x, 428, x, 442, "#000", 3.3);
  
  
  const text = label(inset, x, 483, 37, "middle", String(year));
  
  
});
insetValueTicks.forEach(function(value){
  const y = yInset(value);
  const grid = line(inset, 281.4, y, 818, y, "#b0b0b0", 1.6);
  grid.setAttribute("stroke-opacity", "0.75");
  
  
  const tick = line(inset, 267, y, 281.4, y, "#000", 3.3);
  
  
  const text = label(inset, 254, y + 14, 37, "end", String(value));
  
  
});
const annualLine = make("polyline", inset);
annualLine.setAttribute("points", annualDischarge.map(function(v, i){ return xInset(annualFirstYear + i).toFixed(1) + "," + yInset(v).toFixed(1); }).join(" "));
annualLine.setAttribute("fill", "none");
annualLine.setAttribute("stroke", "#000");
annualLine.setAttribute("stroke-width", "2.1");


annualDischarge.forEach(function(v, i){
  const year = annualFirstYear + i;
  const dot = make("circle", inset);
  dot.setAttribute("cx", xInset(year));
  dot.setAttribute("cy", yInset(v));
  const h = highlightYears.indexOf(year);
  dot.setAttribute("r", h >= 0 ? 8.6 : 5.9);
  dot.setAttribute("fill", h >= 0 ? highlightColors[h] : "#000");
  
  
});
</script>
</body>
</html>
